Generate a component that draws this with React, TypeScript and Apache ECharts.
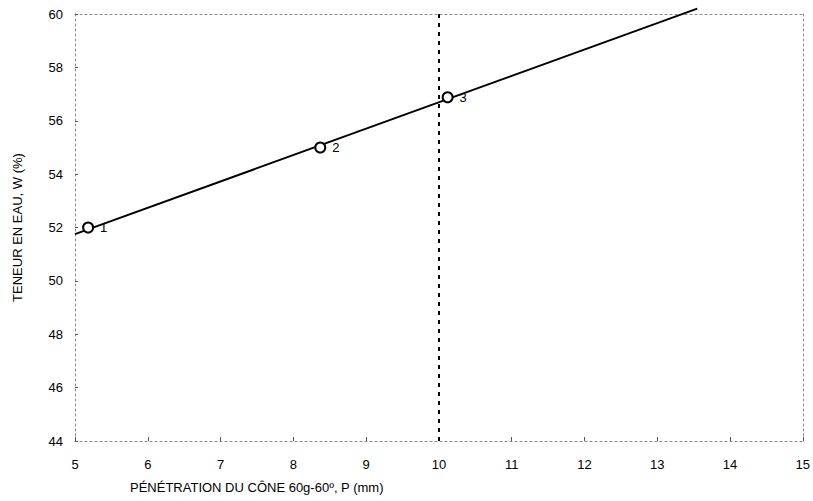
import React, { useEffect, useRef } from "react";
import * as echarts from "echarts";

// Cone penetration test points (penetration in mm, water content in %)
const pointLabels = ["1", "2", "3"];
const penetration = [5.18, 8.37, 10.12];
const waterContent = [52.0, 55.0, 56.88];

// Fitted straight line through the points
const fitX = [5.0, 13.55];
const fitY = [51.75, 60.2];

// Reference penetration for the liquid limit
const refPenetration = 10;

const xMin = 5;
const xMax = 15;
const yMin = 44;
const yMax = 60;

const FONT = "Liberation Sans, Arial, sans-serif";

export default function App() {
  const ref = useRef<HTMLDivElement>(null);

  useEffect(() => {
    if (!ref.current) return;
    const chart = echarts.init(ref.current, null, { renderer: "svg" });

    const frameLine = { show: true, lineStyle: { color: "#888", width: 1, type: [2, 3] as any } };

    chart.setOption({
      animation: false,
      backgroundColor: "#fff",
      textStyle: { fontFamily: FONT },
      grid: { left: 75, right: 8, top: 14, bottom: 60, containLabel: false },
      xAxis: [
        {
          type: "value",
          min: xMin,
          max: xMax,
          interval: 1,
          position: "bottom",
          axisLine: frameLine,
          axisTick: { show: true, inside: true, length: 4, lineStyle: { color: "#555" } },
          axisLabel: { color: "#000", fontSize: 13, margin: 17, fontFamily: FONT },
          splitLine: { show: false },
        },
        {
          type: "value",
          min: xMin,
          max: xMax,
          position: "top",
          axisLine: frameLine,
          axisTick: { show: false },
          axisLabel: { show: false },
          splitLine: { show: false },
        },
      ],
      yAxis: [
        {
          type: "value",
          min: yMin,
          max: yMax,
          interval: 2,
          position: "left",
          name: "TENEUR EN EAU, W (%)",
          nameLocation: "middle",
          nameGap: 51,
          nameTextStyle: { color: "#000", fontSize: 13, fontFamily: FONT },
          axisLine: frameLine,
          axisTick: { show: true, inside: true, length: 3, lineStyle: { color: "#555" } },
          axisLabel: { color: "#000", fontSize: 13, margin: 12, fontFamily: FONT },
          splitLine: { show: false },
        },
        {
          type: "value",
          min: yMin,
          max: yMax,
          position: "right",
          axisLine: frameLine,
          axisTick: { show: false },
          axisLabel: { show: false },
          splitLine: { show: false },
        },
      ],
      graphic: [
        {
          type: "text",
          left: 130,
          top: 481,
          style: {
            text: "PÉNÉTRATION DU CÔNE 60g-60º, P (mm)",
            fill: "#000",
            font: `13px ${FONT}`,
          },
        },
      ],
      series: [
        {
          type: "line",
          clip: false,
          data: fitX.map((x, i) => [x, fitY[i]]),
          symbol: "none",
          lineStyle: { color: "#000", width: 2 },
          z: 2,
          markLine: {
            silent: true,
            symbol: "none",
            label: { show: false },
            lineStyle: { color: "#000", width: 2, type: [4, 5] },
            data: [{ xAxis: refPenetration }],
          },
        },
        {
          type: "scatter",
          data: penetration.map((x, i) => [x, waterContent[i]]),
          symbol: "circle",
          symbolSize: 10,
          itemStyle: { color: "#fff", borderColor: "#000", borderWidth: 2, opacity: 1 },
          label: {
            show: true,
            position: "right",
            distance: 6,
            color: "#000",
            fontSize: 13,
            fontFamily: FONT,
            formatter: (p: any) => pointLabels[p.dataIndex],
          },
          z: 3,
        },
      ],
    });

    return () => chart.dispose();
  }, []);

  return <div ref={ref} style={{ width: 813, height: 501, position: "absolute", left: 0, top: 0 }} />;
}
